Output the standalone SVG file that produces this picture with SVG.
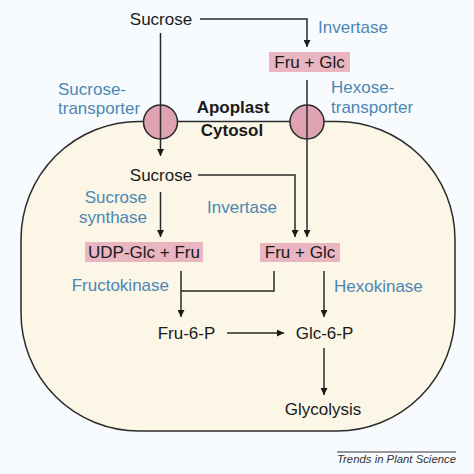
<svg xmlns="http://www.w3.org/2000/svg" width="474" height="474" viewBox="0 0 474 474">
<style>
text{font-family:"Liberation Sans",Arial,sans-serif;font-size:17px;fill:#1a1a1a}
.enz{fill:#4c87b3}
.b{font-weight:bold}
.box{fill:#e8b5c1}
.tr{fill:#dea2b2;stroke:#2a2a2a;stroke-width:1.5}
.ln{fill:none;stroke:#2a2a2a;stroke-width:1.5}
.ar{marker-end:url(#ah)}
</style>
<defs>
<marker id="ah" viewBox="0 0 10 10" refX="10" refY="5" markerUnits="userSpaceOnUse" markerWidth="9" markerHeight="7" orient="auto">
<path d="M0,0 L10,5 L0,10 z" fill="#1a1a1a"/>
</marker>
</defs>
<rect width="474" height="474" fill="#f7fbfd"/>
<g id="cell">
<path d="M139 121.5 H337 A118 118 0 0 1 455 239.5 V313 A118 118 0 0 1 337 431 H139 A118 118 0 0 1 21 313 V239.5 A118 118 0 0 1 139 121.5 Z" fill="#fbf6e6" stroke="#2a2a2a" stroke-width="1.5"/>
</g>
<g id="sucrose-transporter"><circle class="tr" cx="160.5" cy="122" r="17"/><text class="enz" x="58" y="95">Sucrose-</text><text class="enz" x="58" y="114">transporter</text></g>
<g id="hexose-transporter"><circle class="tr" cx="307" cy="122" r="17"/><text class="enz" x="331" y="93">Hexose-</text><text class="enz" x="331" y="113">transporter</text></g>
<g id="compartments"><text class="b" x="233" y="113" text-anchor="middle">Apoplast</text><text class="b" x="232" y="136" text-anchor="middle">Cytosol</text></g>
<g id="sucrose-out"><text x="161" y="25" text-anchor="middle">Sucrose</text></g>
<g id="invertase-out"><text class="enz" x="318" y="33">Invertase</text></g>
<g id="frucglc-out"><rect class="box" x="269" y="52" width="81" height="20"/><text x="309.5" y="68" text-anchor="middle">Fru + Glc</text></g>
<g id="sucrose-in"><text x="161" y="181" text-anchor="middle">Sucrose</text></g>
<g id="sucrose-synthase"><text class="enz" x="147" y="203" text-anchor="end">Sucrose</text><text class="enz" x="147" y="223" text-anchor="end">synthase</text></g>
<g id="invertase-in"><text class="enz" x="207" y="213">Invertase</text></g>
<g id="udpglc-fru"><rect class="box" x="85" y="242" width="118" height="20"/><text x="144" y="258" text-anchor="middle">UDP-Glc + Fru</text></g>
<g id="frucglc-in"><rect class="box" x="260" y="243" width="80" height="19"/><text x="300" y="258" text-anchor="middle">Fru + Glc</text></g>
<g id="fructokinase"><text class="enz" x="169" y="291" text-anchor="end">Fructokinase</text></g>
<g id="hexokinase"><text class="enz" x="334" y="292">Hexokinase</text></g>
<g id="fru6p"><text x="186.5" y="339" text-anchor="middle">Fru-6-P</text></g>
<g id="glc6p"><text x="324.5" y="339" text-anchor="middle">Glc-6-P</text></g>
<g id="glycolysis"><text x="323" y="415" text-anchor="middle">Glycolysis</text></g>
<g id="connectors">
<path class="ln ar" d="M200 19 H307 V47"/>
<path class="ln ar" d="M160.5 33 V156"/>
<path class="ln ar" d="M307 80 V237"/>
<path class="ln ar" d="M198 175 H295 V237"/>
<path class="ln ar" d="M160.5 192 V237"/>
<path class="ln ar" d="M181 271 V317"/>
<path class="ln" d="M274 271 V291 H181"/>
<path class="ln ar" d="M324 271 V317"/>
<path class="ln ar" d="M227 333 H284"/>
<path class="ln ar" d="M324 348 V395"/>
</g>
<g id="credit">
<line x1="337" y1="452" x2="456" y2="452" stroke="#333" stroke-width="1"/>
<text x="337" y="463" style="font-size:11px;font-style:italic;fill:#333" textLength="119" lengthAdjust="spacingAndGlyphs">Trends in Plant Science</text>
</g>
</svg>
